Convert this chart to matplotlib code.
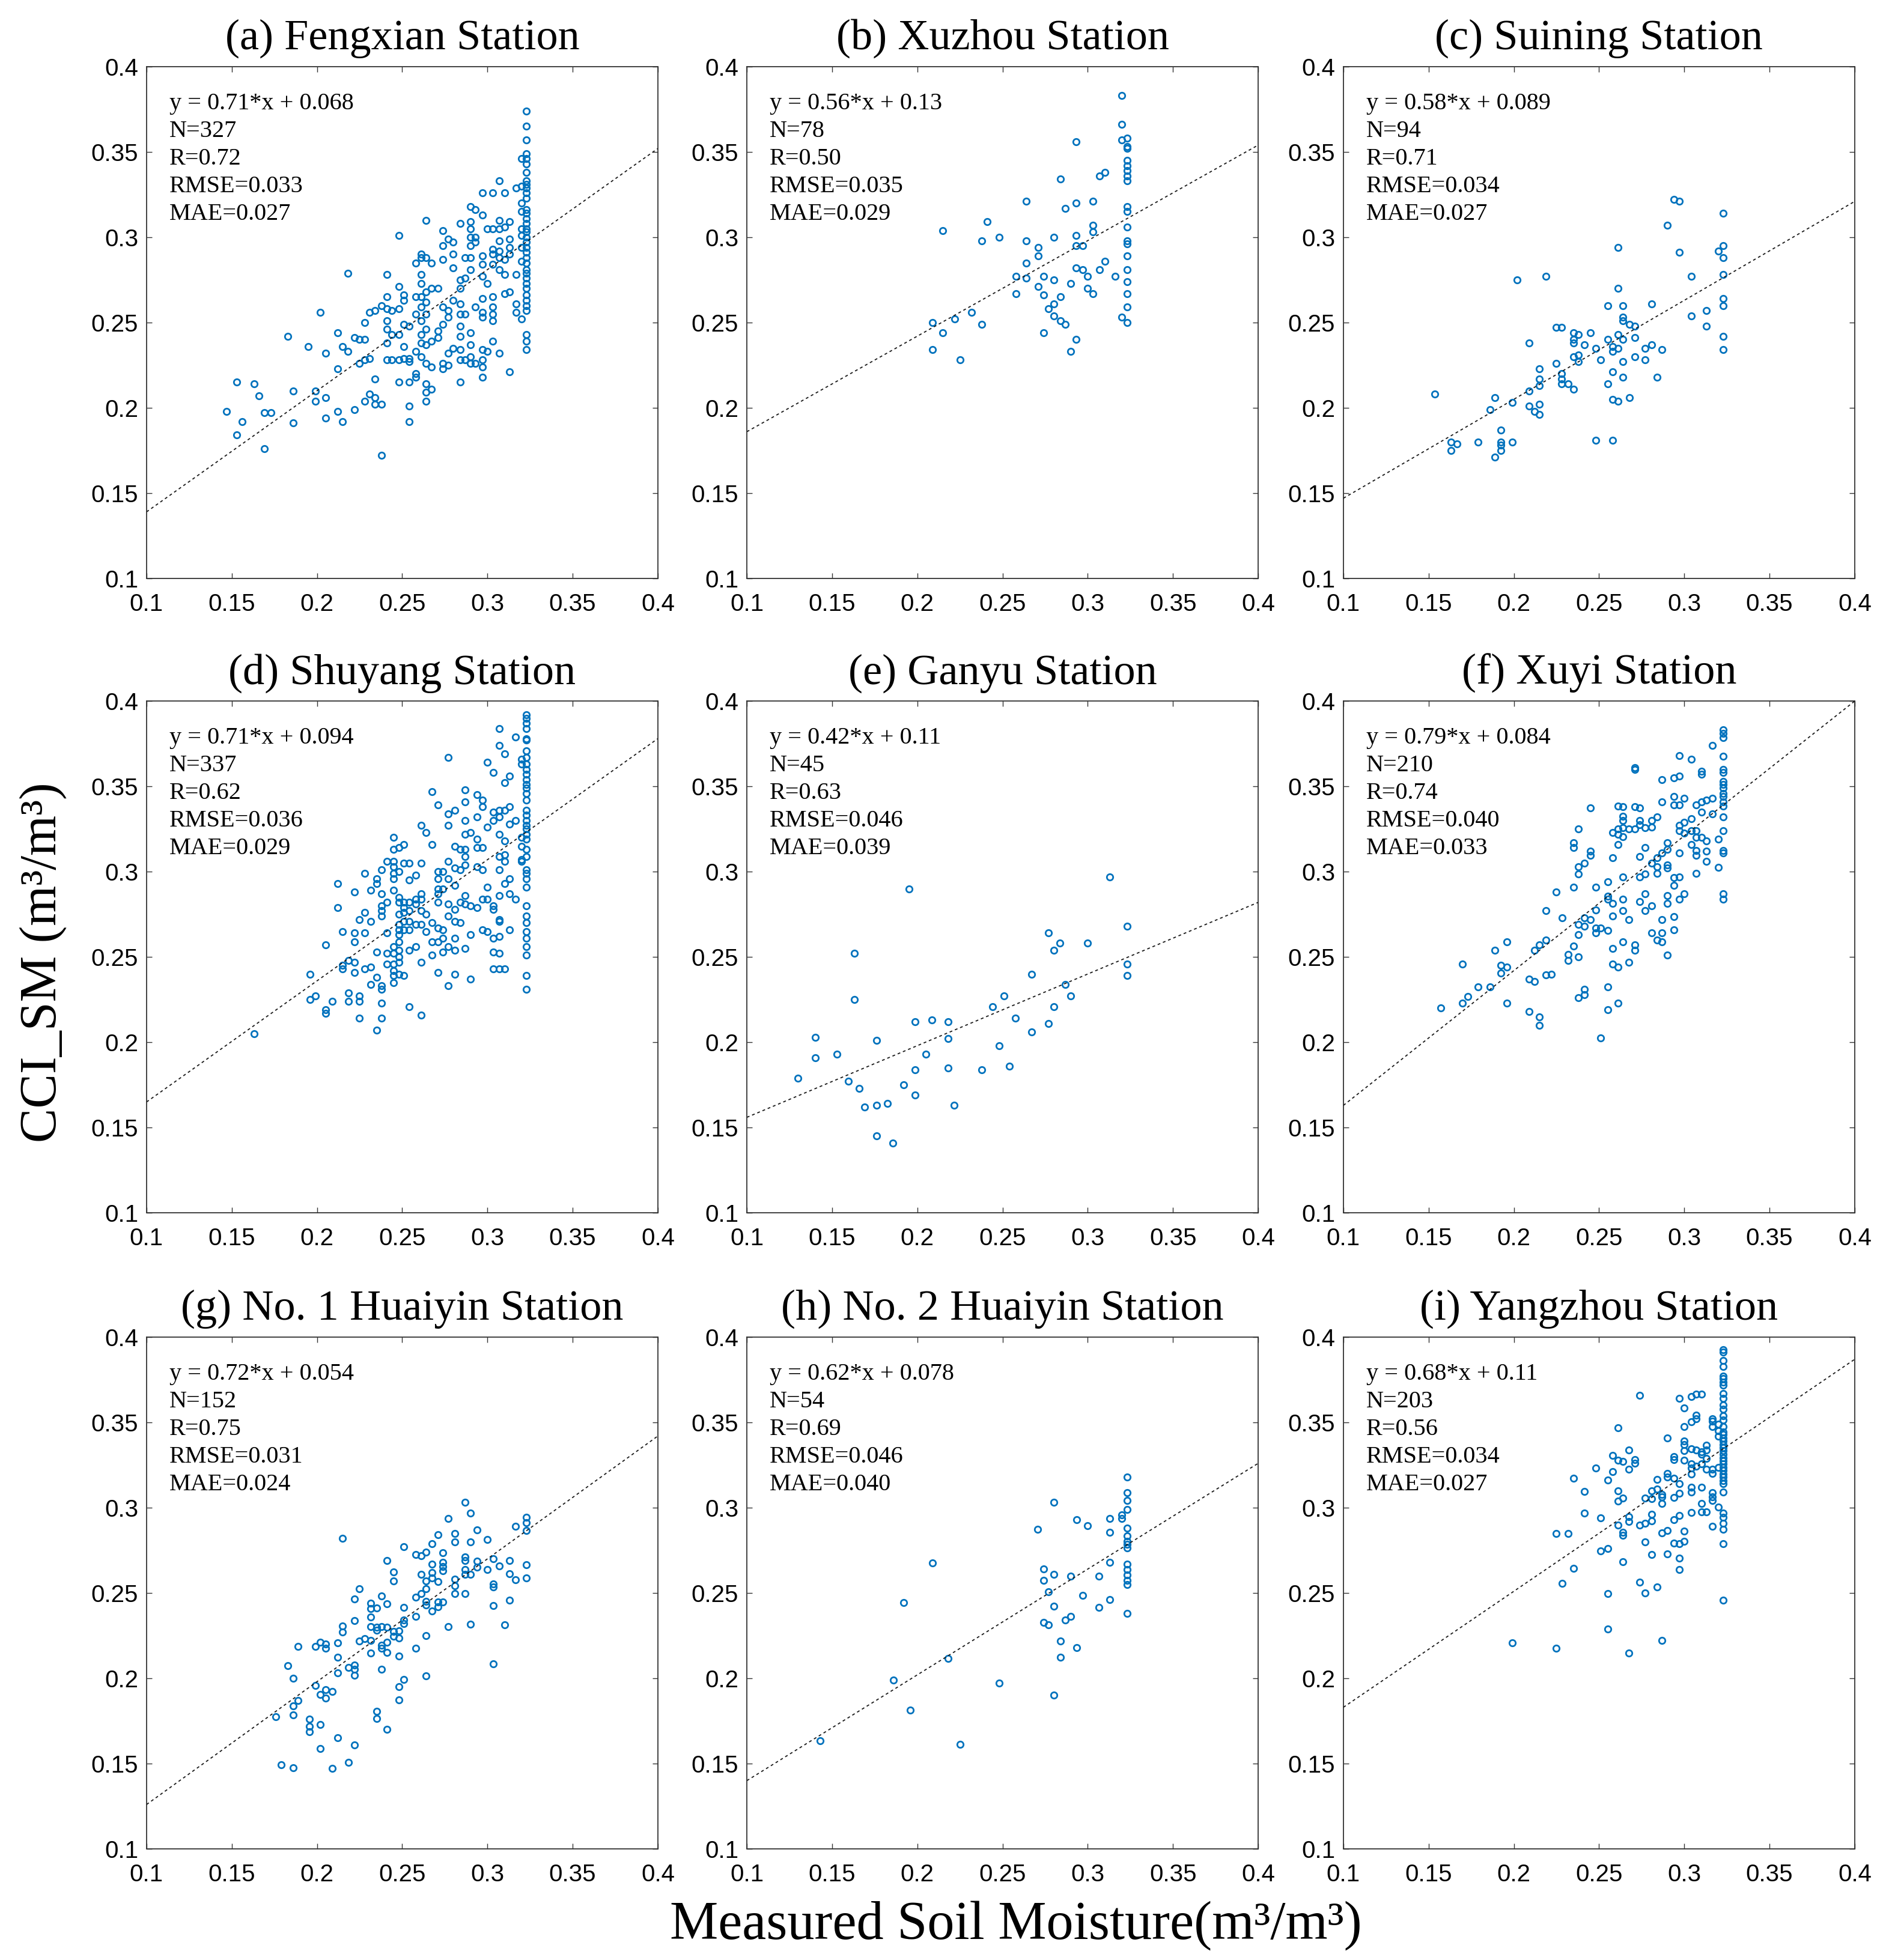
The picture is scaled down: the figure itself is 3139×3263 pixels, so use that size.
import matplotlib
matplotlib.use("Agg")
import matplotlib.pyplot as plt
import numpy as np
from matplotlib.ticker import FixedLocator, FixedFormatter

# ---------------- data ----------------
titles = ["(a) Fengxian Station", "(b) Xuzhou Station", "(c) Suining Station",
          "(d) Shuyang Station", "(e) Ganyu Station", "(f) Xuyi Station",
          "(g) No. 1 Huaiyin Station", "(h) No. 2 Huaiyin Station", "(i) Yangzhou Station"]
slopes = [0.71, 0.56, 0.58, 0.71, 0.42, 0.79, 0.72, 0.62, 0.68]
intercepts = [0.068, 0.13, 0.089, 0.094, 0.114, 0.084, 0.054, 0.078, 0.115]
eq_text = ["y = 0.71*x + 0.068", "y = 0.56*x + 0.13", "y = 0.58*x + 0.089",
           "y = 0.71*x + 0.094", "y = 0.42*x + 0.11", "y = 0.79*x + 0.084",
           "y = 0.72*x + 0.054", "y = 0.62*x + 0.078", "y = 0.68*x + 0.11"]
n_text = ["N=327", "N=78", "N=94", "N=337", "N=45", "N=210", "N=152", "N=54", "N=203"]
r_text = ["R=0.72", "R=0.50", "R=0.71", "R=0.62", "R=0.63", "R=0.74", "R=0.75", "R=0.69", "R=0.56"]
rmse_text = ["RMSE=0.033", "RMSE=0.035", "RMSE=0.034", "RMSE=0.036", "RMSE=0.046",
             "RMSE=0.040", "RMSE=0.031", "RMSE=0.046", "RMSE=0.034"]
mae_text = ["MAE=0.027", "MAE=0.029", "MAE=0.027", "MAE=0.029", "MAE=0.039",
            "MAE=0.033", "MAE=0.024", "MAE=0.040", "MAE=0.027"]

tick_values = [0.1, 0.15, 0.2, 0.25, 0.3, 0.35, 0.4]
tick_labels = ["0.1", "0.15", "0.2", "0.25", "0.3", "0.35", "0.4"]

# column of points at the saturation value of measured soil moisture
sat_x = 0.323

fengxian_pts = [(0.147,0.198),(0.153,0.215),(0.153,0.184),(0.156,0.192),(0.163,0.214),(0.166,0.207),(0.169,0.197),(0.173,0.197),(0.169,0.176),(0.183,0.242),(0.186,0.210),(0.186,0.191),(0.195,0.236),(0.199,0.210),(0.199,0.204),(0.202,0.256),(0.205,0.232),(0.205,0.206),(0.205,0.194),(0.212,0.244),(0.212,0.223),(0.212,0.198),(0.215,0.236),(0.215,0.192),(0.218,0.233),(0.218,0.279),(0.222,0.241),(0.222,0.199),(0.225,0.240),(0.225,0.226),(0.228,0.240),(0.228,0.250),(0.228,0.228),(0.228,0.204),(0.231,0.256),(0.231,0.229),(0.231,0.208),(0.234,0.257),(0.234,0.217),(0.234,0.206),(0.234,0.202),(0.238,0.260),(0.238,0.202),(0.238,0.172),(0.241,0.278),(0.241,0.265),(0.241,0.258),(0.241,0.251),(0.241,0.246),(0.241,0.238),(0.241,0.228),(0.244,0.257),(0.244,0.243),(0.244,0.228),(0.248,0.271),(0.248,0.258),(0.248,0.243),(0.248,0.228),(0.248,0.215),(0.248,0.301),(0.251,0.266),(0.251,0.263),(0.251,0.249),(0.251,0.236),(0.251,0.229),(0.254,0.248),(0.254,0.229),(0.254,0.227),(0.254,0.215),(0.254,0.201),(0.254,0.192),(0.258,0.285),(0.258,0.265),(0.258,0.255),(0.258,0.233),(0.258,0.220),(0.258,0.218),(0.261,0.290),(0.261,0.288),(0.261,0.278),(0.261,0.273),(0.261,0.265),(0.261,0.259),(0.261,0.251),(0.261,0.243),(0.261,0.238),(0.261,0.230),(0.264,0.310),(0.264,0.288),(0.264,0.268),(0.264,0.262),(0.264,0.255),(0.264,0.246),(0.264,0.237),(0.264,0.226),(0.264,0.214),(0.264,0.209),(0.264,0.204),(0.267,0.285),(0.267,0.270),(0.267,0.239),(0.267,0.224),(0.267,0.211),(0.271,0.270),(0.271,0.245),(0.271,0.241),(0.274,0.304),(0.274,0.295),(0.274,0.287),(0.274,0.259),(0.274,0.249),(0.274,0.226),(0.274,0.223),(0.277,0.299),(0.277,0.257),(0.277,0.253),(0.277,0.232),(0.277,0.225),(0.280,0.297),(0.280,0.290),(0.280,0.282),(0.280,0.263),(0.280,0.235),(0.284,0.308),(0.284,0.275),(0.284,0.270),(0.284,0.261),(0.284,0.255),(0.284,0.248),(0.284,0.242),(0.284,0.234),(0.284,0.228),(0.284,0.215),(0.287,0.288),(0.287,0.276),(0.287,0.255),(0.287,0.228),(0.290,0.318),(0.290,0.309),(0.290,0.305),(0.290,0.300),(0.290,0.295),(0.290,0.288),(0.290,0.281),(0.290,0.244),(0.290,0.237),(0.290,0.230),(0.290,0.226),(0.293,0.316),(0.293,0.300),(0.293,0.297),(0.293,0.259),(0.293,0.226),(0.297,0.326),(0.297,0.313),(0.297,0.289),(0.297,0.284),(0.297,0.277),(0.297,0.264),(0.297,0.256),(0.297,0.253),(0.297,0.234),(0.297,0.228),(0.297,0.224),(0.297,0.218),(0.300,0.305),(0.300,0.273),(0.300,0.233),(0.303,0.326),(0.303,0.305),(0.303,0.293),(0.303,0.290),(0.303,0.284),(0.303,0.265),(0.303,0.259),(0.303,0.255),(0.303,0.251),(0.303,0.239),(0.307,0.333),(0.307,0.310),(0.307,0.305),(0.307,0.298),(0.307,0.292),(0.307,0.288),(0.307,0.281),(0.307,0.232),(0.310,0.326),(0.310,0.306),(0.310,0.287),(0.310,0.278),(0.310,0.267),(0.313,0.309),(0.313,0.299),(0.313,0.294),(0.313,0.290),(0.313,0.268),(0.313,0.221),(0.317,0.329),(0.317,0.278),(0.317,0.261),(0.317,0.256),(0.320,0.346),(0.320,0.330),(0.320,0.320),(0.320,0.315),(0.320,0.305),(0.320,0.301),(0.320,0.294),(0.320,0.286),(0.320,0.252)]
fengxian_col_y = [0.374,0.365,0.357,0.349,0.346,0.343,0.338,0.333,0.331,0.329,0.326,0.323,0.316,0.314,0.311,0.308,0.305,0.303,0.300,0.297,0.294,0.291,0.288,0.285,0.281,0.279,0.276,0.273,0.270,0.266,0.263,0.260,0.257,0.243,0.239,0.234]

xuzhou_pts = [(0.320,0.383),(0.320,0.366),(0.320,0.357),(0.320,0.253),(0.293,0.356),(0.284,0.334),(0.307,0.336),(0.310,0.338),(0.264,0.321),(0.293,0.320),(0.303,0.321),(0.287,0.317),(0.303,0.307),(0.303,0.303),(0.241,0.309),(0.215,0.304),(0.238,0.298),(0.248,0.300),(0.264,0.298),(0.280,0.300),(0.293,0.301),(0.293,0.295),(0.297,0.295),(0.271,0.294),(0.271,0.289),(0.264,0.285),(0.310,0.286),(0.293,0.282),(0.297,0.281),(0.307,0.281),(0.258,0.277),(0.264,0.276),(0.274,0.277),(0.280,0.275),(0.290,0.273),(0.300,0.277),(0.316,0.277),(0.271,0.271),(0.300,0.270),(0.303,0.267),(0.258,0.267),(0.274,0.266),(0.284,0.265),(0.280,0.261),(0.277,0.258),(0.232,0.256),(0.280,0.254),(0.284,0.251),(0.287,0.249),(0.222,0.252),(0.209,0.250),(0.238,0.249),(0.215,0.244),(0.274,0.244),(0.293,0.240),(0.209,0.234),(0.290,0.233),(0.225,0.228)]
xuzhou_col_y = [0.358,0.353,0.352,0.345,0.342,0.339,0.336,0.333,0.318,0.315,0.306,0.298,0.296,0.289,0.281,0.274,0.267,0.259,0.250]

suining_pts = [(0.294,0.322),(0.297,0.321),(0.323,0.314),(0.290,0.307),(0.261,0.294),(0.297,0.291),(0.320,0.292),(0.323,0.295),(0.323,0.288),(0.202,0.275),(0.219,0.277),(0.304,0.277),(0.323,0.278),(0.261,0.270),(0.255,0.260),(0.264,0.260),(0.281,0.261),(0.323,0.264),(0.323,0.260),(0.313,0.257),(0.304,0.254),(0.264,0.253),(0.264,0.251),(0.268,0.249),(0.271,0.248),(0.313,0.248),(0.225,0.247),(0.228,0.247),(0.235,0.244),(0.238,0.243),(0.245,0.244),(0.261,0.243),(0.271,0.241),(0.323,0.242),(0.235,0.240),(0.235,0.238),(0.255,0.240),(0.264,0.240),(0.209,0.238),(0.2415,0.237),(0.258,0.236),(0.261,0.235),(0.258,0.233),(0.248,0.235),(0.277,0.235),(0.281,0.237),(0.287,0.234),(0.323,0.234),(0.235,0.230),(0.238,0.231),(0.238,0.227),(0.251,0.228),(0.271,0.230),(0.277,0.228),(0.264,0.227),(0.225,0.226),(0.215,0.223),(0.228,0.220),(0.215,0.217),(0.228,0.217),(0.258,0.221),(0.264,0.218),(0.284,0.218),(0.228,0.214),(0.232,0.214),(0.235,0.211),(0.215,0.213),(0.255,0.214),(0.209,0.210),(0.189,0.206),(0.199,0.203),(0.209,0.201),(0.215,0.202),(0.212,0.198),(0.215,0.196),(0.186,0.199),(0.258,0.205),(0.261,0.204),(0.268,0.206),(0.1535,0.208),(0.1925,0.187),(0.163,0.180),(0.1665,0.179),(0.163,0.175),(0.179,0.180),(0.1925,0.180),(0.1925,0.178),(0.1925,0.175),(0.189,0.171),(0.199,0.180),(0.248,0.181),(0.258,0.181)]

shuyang_pts = [(0.163,0.205),(0.196,0.240),(0.196,0.225),(0.199,0.227),(0.205,0.257),(0.205,0.219),(0.205,0.217),(0.209,0.224),(0.212,0.293),(0.212,0.279),(0.215,0.265),(0.215,0.245),(0.215,0.243),(0.2185,0.248),(0.2185,0.229),(0.2185,0.224),(0.222,0.288),(0.222,0.264),(0.222,0.259),(0.222,0.247),(0.222,0.241),(0.225,0.272),(0.225,0.227),(0.225,0.224),(0.225,0.214),(0.228,0.299),(0.228,0.276),(0.228,0.264),(0.228,0.243),(0.2315,0.289),(0.2315,0.271),(0.2315,0.244),(0.2315,0.234),(0.235,0.296),(0.235,0.293),(0.235,0.253),(0.235,0.238),(0.235,0.207),(0.238,0.301),(0.238,0.287),(0.238,0.280),(0.238,0.277),(0.238,0.274),(0.238,0.233),(0.238,0.231),(0.238,0.223),(0.238,0.214),(0.241,0.306),(0.241,0.282),(0.241,0.264),(0.241,0.252),(0.241,0.246),(0.245,0.320),(0.245,0.313),(0.245,0.306),(0.245,0.303),(0.245,0.299),(0.245,0.296),(0.245,0.289),(0.245,0.256),(0.245,0.252),(0.245,0.246),(0.245,0.242),(0.245,0.239),(0.245,0.235),(0.248,0.314),(0.248,0.300),(0.248,0.285),(0.248,0.282),(0.248,0.275),(0.248,0.269),(0.248,0.266),(0.248,0.263),(0.248,0.259),(0.248,0.254),(0.248,0.250),(0.248,0.247),(0.248,0.240),(0.251,0.316),(0.251,0.305),(0.251,0.282),(0.251,0.279),(0.251,0.276),(0.251,0.271),(0.251,0.266),(0.251,0.239),(0.254,0.305),(0.254,0.295),(0.254,0.282),(0.254,0.277),(0.254,0.271),(0.254,0.266),(0.254,0.254),(0.254,0.221),(0.258,0.298),(0.258,0.284),(0.258,0.281),(0.258,0.269),(0.258,0.256),(0.261,0.327),(0.261,0.305),(0.261,0.287),(0.261,0.284),(0.261,0.277),(0.261,0.269),(0.261,0.247),(0.261,0.216),(0.264,0.323),(0.264,0.275),(0.264,0.265),(0.2675,0.347),(0.2675,0.316),(0.2675,0.270),(0.2675,0.259),(0.2675,0.251),(0.271,0.339),(0.271,0.300),(0.271,0.296),(0.271,0.290),(0.271,0.287),(0.271,0.282),(0.271,0.267),(0.271,0.259),(0.271,0.241),(0.274,0.300),(0.274,0.290),(0.274,0.266),(0.274,0.261),(0.274,0.253),(0.277,0.367),(0.277,0.334),(0.277,0.327),(0.277,0.306),(0.277,0.296),(0.277,0.281),(0.277,0.274),(0.277,0.256),(0.277,0.233),(0.281,0.336),(0.281,0.315),(0.281,0.302),(0.281,0.292),(0.281,0.278),(0.281,0.271),(0.281,0.261),(0.281,0.254),(0.281,0.240),(0.284,0.313),(0.284,0.301),(0.284,0.282),(0.284,0.270),(0.287,0.348),(0.287,0.341),(0.287,0.330),(0.287,0.322),(0.287,0.313),(0.287,0.309),(0.287,0.304),(0.287,0.286),(0.287,0.281),(0.287,0.255),(0.290,0.323),(0.290,0.280),(0.290,0.263),(0.290,0.237),(0.294,0.345),(0.294,0.332),(0.294,0.319),(0.294,0.314),(0.294,0.303),(0.294,0.279),(0.297,0.342),(0.297,0.338),(0.297,0.314),(0.297,0.301),(0.297,0.284),(0.297,0.266),(0.300,0.364),(0.300,0.326),(0.300,0.291),(0.300,0.284),(0.300,0.265),(0.3035,0.358),(0.3035,0.335),(0.3035,0.330),(0.3035,0.280),(0.3035,0.278),(0.3035,0.261),(0.3035,0.253),(0.3035,0.243),(0.307,0.384),(0.307,0.374),(0.307,0.336),(0.307,0.332),(0.307,0.322),(0.307,0.309),(0.307,0.301),(0.307,0.286),(0.307,0.272),(0.307,0.271),(0.307,0.262),(0.307,0.252),(0.307,0.243),(0.310,0.369),(0.310,0.352),(0.310,0.336),(0.310,0.318),(0.310,0.310),(0.310,0.306),(0.310,0.293),(0.310,0.243),(0.313,0.356),(0.313,0.338),(0.313,0.328),(0.313,0.296),(0.313,0.287),(0.313,0.266),(0.3165,0.379),(0.3165,0.330),(0.3165,0.284),(0.320,0.366),(0.320,0.363),(0.320,0.320),(0.320,0.315),(0.320,0.307),(0.320,0.306)]
shuyang_col_y = [0.392,0.390,0.387,0.384,0.378,0.377,0.371,0.367,0.363,0.360,0.357,0.354,0.351,0.349,0.346,0.342,0.336,0.333,0.330,0.327,0.325,0.322,0.319,0.313,0.309,0.301,0.299,0.296,0.291,0.280,0.274,0.270,0.265,0.261,0.256,0.251,0.239,0.231]

ganyu_pts = [(0.313,0.297),(0.195,0.290),(0.323,0.268),(0.277,0.264),(0.2835,0.258),(0.280,0.254),(0.300,0.258),(0.163,0.252),(0.323,0.246),(0.323,0.239),(0.267,0.240),(0.287,0.234),(0.290,0.227),(0.251,0.227),(0.163,0.225),(0.244,0.221),(0.280,0.221),(0.2575,0.214),(0.1987,0.212),(0.2085,0.213),(0.218,0.212),(0.277,0.211),(0.267,0.206),(0.140,0.203),(0.176,0.201),(0.218,0.202),(0.248,0.198),(0.153,0.193),(0.205,0.193),(0.140,0.191),(0.254,0.186),(0.218,0.185),(0.1987,0.184),(0.238,0.184),(0.130,0.179),(0.1594,0.177),(0.166,0.173),(0.192,0.175),(0.1987,0.169),(0.169,0.162),(0.176,0.163),(0.1825,0.164),(0.2215,0.163),(0.176,0.145),(0.1856,0.141)]

xuyi_pts = [(0.323,0.383),(0.323,0.381),(0.323,0.3785),(0.3165,0.374),(0.297,0.368),(0.304,0.366),(0.323,0.3675),(0.271,0.361),(0.271,0.360),(0.310,0.359),(0.310,0.357),(0.323,0.360),(0.323,0.358),(0.294,0.355),(0.297,0.356),(0.287,0.354),(0.323,0.353),(0.323,0.351),(0.323,0.349),(0.323,0.346),(0.323,0.344),(0.323,0.341),(0.323,0.3385),(0.323,0.332),(0.323,0.324),(0.323,0.3125),(0.323,0.311),(0.323,0.287),(0.323,0.284),(0.287,0.341),(0.294,0.344),(0.300,0.343),(0.294,0.339),(0.297,0.339),(0.307,0.339),(0.310,0.341),(0.313,0.342),(0.3165,0.343),(0.245,0.3375),(0.261,0.3385),(0.264,0.338),(0.271,0.338),(0.274,0.3375),(0.310,0.335),(0.3165,0.334),(0.264,0.3325),(0.264,0.330),(0.274,0.330),(0.281,0.330),(0.284,0.332),(0.304,0.331),(0.300,0.329),(0.297,0.327),(0.261,0.325),(0.264,0.3256),(0.2675,0.325),(0.271,0.325),(0.277,0.3256),(0.281,0.326),(0.274,0.3275),(0.258,0.323),(0.261,0.322),(0.264,0.3206),(0.297,0.324),(0.300,0.3225),(0.304,0.324),(0.307,0.324),(0.307,0.320),(0.310,0.320),(0.313,0.318),(0.320,0.319),(0.238,0.325),(0.235,0.317),(0.235,0.314),(0.261,0.316),(0.277,0.314),(0.290,0.317),(0.287,0.311),(0.290,0.313),(0.297,0.311),(0.304,0.316),(0.307,0.3125),(0.307,0.3096),(0.313,0.312),(0.313,0.306),(0.245,0.312),(0.245,0.3096),(0.258,0.308),(0.274,0.309),(0.284,0.308),(0.281,0.305),(0.238,0.303),(0.2415,0.305),(0.238,0.2985),(0.284,0.303),(0.290,0.304),(0.290,0.302),(0.277,0.2987),(0.274,0.297),(0.284,0.299),(0.264,0.297),(0.307,0.299),(0.320,0.3025),(0.294,0.2965),(0.297,0.297),(0.294,0.292),(0.235,0.291),(0.248,0.291),(0.255,0.294),(0.225,0.288),(0.255,0.2856),(0.255,0.2837),(0.258,0.2815),(0.264,0.284),(0.274,0.2825),(0.277,0.287),(0.281,0.280),(0.277,0.277),(0.290,0.286),(0.290,0.2815),(0.297,0.284),(0.300,0.287),(0.219,0.277),(0.248,0.2775),(0.264,0.277),(0.258,0.274),(0.2675,0.272),(0.287,0.272),(0.294,0.2735),(0.2285,0.273),(0.2415,0.273),(0.245,0.272),(0.238,0.269),(0.2415,0.268),(0.248,0.267),(0.248,0.264),(0.251,0.267),(0.255,0.2656),(0.238,0.263),(0.294,0.266),(0.281,0.264),(0.287,0.264),(0.284,0.260),(0.287,0.259),(0.264,0.259),(0.271,0.257),(0.271,0.254),(0.235,0.2565),(0.258,0.255),(0.219,0.260),(0.215,0.257),(0.212,0.254),(0.196,0.259),(0.189,0.254),(0.232,0.2515),(0.232,0.248),(0.238,0.250),(0.290,0.251),(0.170,0.246),(0.1925,0.245),(0.1925,0.2406),(0.196,0.244),(0.258,0.246),(0.261,0.244),(0.2675,0.247),(0.209,0.237),(0.212,0.2356),(0.219,0.2394),(0.222,0.240),(0.179,0.2325),(0.186,0.2325),(0.2415,0.231),(0.2415,0.228),(0.238,0.226),(0.255,0.2325),(0.173,0.2267),(0.170,0.223),(0.196,0.223),(0.261,0.223),(0.157,0.220),(0.209,0.218),(0.215,0.215),(0.215,0.210),(0.255,0.219),(0.251,0.2025)]

huaiyin1_pts = [(0.287,0.303),(0.290,0.297),(0.277,0.2935),(0.323,0.2944),(0.323,0.2913),(0.323,0.2865),(0.3165,0.289),(0.294,0.287),(0.271,0.284),(0.281,0.285),(0.281,0.280),(0.290,0.280),(0.300,0.2815),(0.215,0.282),(0.251,0.277),(0.2675,0.279),(0.258,0.2725),(0.261,0.272),(0.264,0.274),(0.274,0.2737),(0.287,0.271),(0.287,0.269),(0.3035,0.270),(0.313,0.269),(0.241,0.269),(0.2675,0.267),(0.274,0.268),(0.274,0.2656),(0.294,0.2685),(0.294,0.265),(0.307,0.266),(0.323,0.2665),(0.287,0.2637),(0.287,0.261),(0.290,0.261),(0.300,0.2637),(0.245,0.2625),(0.261,0.261),(0.2675,0.262),(0.274,0.263),(0.313,0.2612),(0.3165,0.2577),(0.323,0.2588),(0.245,0.257),(0.264,0.257),(0.2675,0.2587),(0.271,0.2567),(0.281,0.258),(0.281,0.2544),(0.3035,0.2554),(0.3035,0.2535),(0.225,0.2525),(0.264,0.2523),(0.261,0.2498),(0.258,0.2475),(0.281,0.2498),(0.287,0.2496),(0.222,0.2465),(0.238,0.2483),(0.2315,0.244),(0.2315,0.241),(0.235,0.2413),(0.241,0.2435),(0.251,0.2417),(0.264,0.2452),(0.264,0.2429),(0.2675,0.2394),(0.271,0.2419),(0.271,0.2448),(0.274,0.2448),(0.3035,0.2425),(0.313,0.2456),(0.222,0.2338),(0.2315,0.2358),(0.251,0.234),(0.251,0.2321),(0.258,0.2362),(0.215,0.2308),(0.215,0.2271),(0.2315,0.2304),(0.235,0.2298),(0.235,0.2283),(0.238,0.2304),(0.241,0.230),(0.245,0.2275),(0.248,0.2279),(0.248,0.2237),(0.277,0.2302),(0.290,0.2317),(0.310,0.2313),(0.245,0.2248),(0.264,0.225),(0.225,0.2217),(0.228,0.2231),(0.2315,0.2223),(0.241,0.2213),(0.189,0.2188),(0.199,0.2185),(0.202,0.2212),(0.205,0.2202),(0.205,0.2175),(0.212,0.2208),(0.238,0.2194),(0.238,0.2175),(0.241,0.2152),(0.2315,0.2148),(0.248,0.2129),(0.258,0.2177),(0.212,0.2123),(0.3035,0.2085),(0.183,0.2075),(0.2185,0.2063),(0.222,0.2079),(0.222,0.2054),(0.222,0.2019),(0.212,0.2031),(0.238,0.2052),(0.264,0.2015),(0.186,0.200),(0.251,0.1994),(0.199,0.1958),(0.248,0.195),(0.205,0.1933),(0.209,0.1921),(0.202,0.1906),(0.205,0.1885),(0.189,0.1871),(0.186,0.1838),(0.248,0.1873),(0.235,0.1808),(0.235,0.1765),(0.176,0.1775),(0.186,0.1785),(0.1956,0.176),(0.1956,0.1717),(0.1956,0.1685),(0.202,0.1729),(0.241,0.170),(0.212,0.1652),(0.222,0.161),(0.202,0.1587),(0.179,0.1494),(0.186,0.1477),(0.209,0.1471),(0.2185,0.1508)]

huaiyin2_pts = [(0.323,0.3179),(0.323,0.3087),(0.323,0.3044),(0.323,0.299),(0.323,0.2881),(0.323,0.2833),(0.323,0.2802),(0.323,0.2785),(0.323,0.2765),(0.323,0.2669),(0.323,0.2637),(0.323,0.2606),(0.323,0.2575),(0.323,0.255),(0.323,0.2379),(0.280,0.3031),(0.320,0.2958),(0.320,0.2938),(0.313,0.2935),(0.2935,0.2929),(0.300,0.2894),(0.2706,0.2873),(0.313,0.2856),(0.209,0.2675),(0.313,0.2679),(0.274,0.2642),(0.280,0.261),(0.290,0.2598),(0.3065,0.260),(0.274,0.2573),(0.277,0.2506),(0.297,0.2485),(0.313,0.246),(0.192,0.2442),(0.280,0.2423),(0.3065,0.2417),(0.290,0.2363),(0.287,0.2342),(0.274,0.2329),(0.277,0.2312),(0.284,0.2217),(0.2935,0.2179),(0.284,0.2123),(0.218,0.2115),(0.186,0.199),(0.248,0.1971),(0.280,0.1902),(0.196,0.1812),(0.143,0.1633),(0.225,0.1612)]

yangzhou_pts = [(0.274,0.366),(0.297,0.364),(0.304,0.365),(0.307,0.3667),(0.310,0.3665),(0.300,0.3583),(0.307,0.3544),(0.307,0.3521),(0.304,0.3502),(0.300,0.3475),(0.3165,0.3521),(0.3165,0.3506),(0.3165,0.3475),(0.320,0.349),(0.320,0.3452),(0.320,0.3419),(0.261,0.3469),(0.290,0.3408),(0.300,0.339),(0.300,0.3371),(0.300,0.3333),(0.304,0.3346),(0.307,0.3337),(0.310,0.3329),(0.310,0.3313),(0.313,0.3367),(0.313,0.3337),(0.313,0.329),(0.2675,0.3337),(0.258,0.3306),(0.261,0.3279),(0.264,0.3271),(0.271,0.3281),(0.271,0.326),(0.2675,0.3227),(0.294,0.3298),(0.294,0.3281),(0.300,0.3279),(0.304,0.3256),(0.304,0.3233),(0.307,0.3242),(0.310,0.3256),(0.313,0.3225),(0.3165,0.3227),(0.3165,0.3202),(0.320,0.3237),(0.248,0.3233),(0.258,0.3213),(0.290,0.3202),(0.290,0.3179),(0.294,0.3173),(0.304,0.3198),(0.235,0.3171),(0.255,0.3163),(0.284,0.3165),(0.297,0.314),(0.2415,0.3094),(0.261,0.310),(0.281,0.310),(0.284,0.311),(0.287,0.3077),(0.297,0.3083),(0.304,0.3121),(0.304,0.309),(0.310,0.3121),(0.3165,0.3087),(0.3165,0.3063),(0.3165,0.3044),(0.261,0.304),(0.264,0.3056),(0.277,0.3056),(0.281,0.3052),(0.287,0.3063),(0.287,0.3025),(0.294,0.306),(0.310,0.3025),(0.320,0.3002),(0.313,0.2977),(0.310,0.2977),(0.304,0.2973),(0.2415,0.2967),(0.251,0.294),(0.2675,0.2948),(0.2675,0.2919),(0.281,0.296),(0.281,0.2923),(0.277,0.291),(0.274,0.2898),(0.294,0.2929),(0.297,0.2956),(0.261,0.2898),(0.3165,0.2892),(0.225,0.2848),(0.232,0.285),(0.264,0.2856),(0.264,0.2837),(0.287,0.2852),(0.290,0.2867),(0.300,0.2862),(0.277,0.2798),(0.294,0.2792),(0.297,0.279),(0.300,0.2802),(0.251,0.2746),(0.255,0.2762),(0.281,0.2725),(0.290,0.2729),(0.297,0.2706),(0.264,0.2683),(0.235,0.2646),(0.297,0.2637),(0.2285,0.2556),(0.274,0.2563),(0.284,0.2535),(0.255,0.2498),(0.277,0.250),(0.255,0.229),(0.199,0.2208),(0.225,0.2175),(0.2675,0.2148),(0.287,0.2221)]
yangzhou_col_y = [0.3925,0.3913,0.3862,0.3829,0.3771,0.3756,0.3737,0.3717,0.3669,0.364,0.3602,0.3579,0.354,0.3515,0.3477,0.3444,0.3429,0.341,0.339,0.3371,0.3352,0.3333,0.3313,0.3294,0.3275,0.3256,0.3237,0.3217,0.3198,0.3179,0.316,0.314,0.3092,0.2967,0.2944,0.291,0.2875,0.279,0.2456]

panel_pts = [fengxian_pts, xuzhou_pts, suining_pts, shuyang_pts, ganyu_pts,
             xuyi_pts, huaiyin1_pts, huaiyin2_pts, yangzhou_pts]
panel_col = [fengxian_col_y, xuzhou_col_y, [], shuyang_col_y, [], [], [], [], yangzhou_col_y]

# ---------------- style ----------------
SERIF = ["Liberation Serif", "DejaVu Serif"]
SANS = ["Liberation Sans", "DejaVu Sans"]
BLUE = "#0072BD"

fig = plt.figure(figsize=(31.39, 32.63), dpi=100)
fig.patch.set_facecolor("white")

lefts = [0.0777, 0.3960, 0.7123]
bottoms = [0.7049, 0.3812, 0.0567]
W, H = 0.2711, 0.2611

for i in range(9):
    r, c = divmod(i, 3)
    ax = fig.add_axes([lefts[c], bottoms[r], W, H])
    pts = panel_pts[i]
    xs = [p[0] for p in pts] + [sat_x] * len(panel_col[i])
    ys = [p[1] for p in pts] + list(panel_col[i])
    ax.plot(xs, ys, linestyle="none", marker="o", markerfacecolor="none",
            markeredgecolor=BLUE, markersize=7.5, markeredgewidth=2.0, zorder=2)
    lx = np.array([0.1, 0.4])
    ax.plot(lx, slopes[i] * lx + intercepts[i], color="#1a1a1a", lw=1.3,
            linestyle=(0, (2.6, 2.6)), zorder=3)

    ax.set_xlim(0.1, 0.4)
    ax.set_ylim(0.1, 0.4)
    for axis in (ax.xaxis, ax.yaxis):
        axis.set_major_locator(FixedLocator(tick_values))
        axis.set_major_formatter(FixedFormatter(tick_labels))
    ax.tick_params(direction="in", length=6.5, width=1.0, color="#333333",
                   top=True, right=True, labelsize=29, labelcolor="black")
    ax.tick_params(axis="x", pad=17)
    ax.tick_params(axis="y", pad=10)
    for lab in ax.get_xticklabels() + ax.get_yticklabels():
        lab.set_family(SANS)
    for sp in ax.spines.values():
        sp.set_color("#333333")
        sp.set_linewidth(1.3)

    ax.text(0.5, 1.034, titles[i], transform=ax.transAxes, ha="center",
            va="baseline", fontsize=52, family=SERIF, color="black")

    lines = [eq_text[i], n_text[i], r_text[i], rmse_text[i], mae_text[i]]
    for k, s in enumerate(lines):
        ax.text(0.045, 0.928 - k * 0.054, s, transform=ax.transAxes,
                ha="left", va="center", fontsize=29, family=SERIF, color="black")

fig.text(0.023, 0.509, "CCI_SM (m\u00b3/m\u00b3)", rotation=90, ha="center",
         va="center", fontsize=62, family=SERIF, color="black")
fig.text(0.5387, 0.0175, "Measured Soil Moisture(m\u00b3/m\u00b3)", ha="center",
         va="center", fontsize=65, family=SERIF, color="black")

fig.savefig("out.png", dpi=100, facecolor="white")
